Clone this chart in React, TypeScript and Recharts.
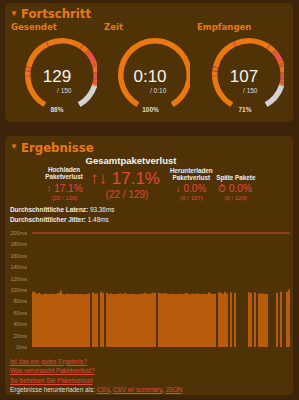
import React from 'react';
import { BarChart, Bar, XAxis, YAxis, ReferenceLine, PieChart, Pie, Cell } from 'recharts';

// test setup
const totalPackets = 150;
const testSeconds = 10;
const elapsedSeconds = 10;

// latency per sent packet, null = lost
const latencyMs: (number | null)[] = [
  97, 96, 93, 95, 93, 92, 94, 93, 93, 94, 93, 93, 94, 95, 99, 93, 92, 94, 93, 93,
  93, 94, 93, 93, 93, 92, 93, 93, 94, null, 96, 94, 94, null, 97, 95, null, 95, 93, 94,
  93, 93, 93, 94, 94, 93, 95, 93, 93, 94, 93, 93, 92, 93, 93, 94, 95, 93, 93, 94,
  95, 95, null, 95, 94, 94, 95, 94, 93, 94, 93, 93, 93, 94, 93, 93, 94, 95, 93, 93,
  94, 93, 94, 93, 93, 94, 93, 93, 96, 94, 93, 93, null, 96, 95, 93, 97, 94, null, 96,
  null, 95, null, null, null, null, null, null, 96, 95, null, 96, null, 94, 94, 94, 93, 93, null, null,
  null, null, 95, null, 97, null, null, 97, 101,
];

const latencyTicks = [0, 20, 40, 60, 80, 100, 120, 140, 160, 180, 200];
const thresholdMs = 200;
const avgLatencyMs = '93.36';
const avgJitterMs = '1.48';
const downloadLost = 0;
const latePackets = 0;
const helpLinks = ['Ist das ein gutes Ergebnis?', 'Was verursacht Paketverlust?', 'So beheben Sie Paketverlust'];
const downloadFormats = ['CSV', 'CSV w/ summary', 'JSON'];

const PAGE = '#3d2309';
const PANEL = '#4f3307';
const ORANGE = '#ea770f';
const STRIPE = '#f04d58';
const GREY = '#d2d2d2';
const LOSS = '#e4463c';
const BAR = '#b85b0b';
const SANS = '"Liberation Sans", Arial, sans-serif';
const NARROW = '"Liberation Sans Narrow", "DejaVu Sans Condensed", sans-serif';

const sent = latencyMs.length;
const lost = latencyMs.filter((v) => v === null).length;
const received = sent - lost;
const pct = (a: number, b: number) => ((a / b) * 100).toFixed(1) + '%';

const kindColor: Record<string, string> = { ok: ORANGE, lost: STRIPE, pending: GREY };

// group packets into runs so the ring has no seams
const packetRuns = (count: number) => {
  const runs: { n: number; kind: string }[] = [];
  for (let i = 0; i < totalPackets; i++) {
    const kind = i >= count ? 'pending' : latencyMs[i] === null ? 'lost' : 'ok';
    const last = runs[runs.length - 1];
    if (last && last.kind === kind) last.n++;
    else runs.push({ n: 1, kind });
  }
  return runs;
};

const timeRuns = [
  { n: elapsedSeconds, kind: 'ok' },
  { n: testSeconds - elapsedSeconds, kind: 'pending' },
];

const barData = latencyMs.map((ms, i) => ({ i, ms }));

const T = ({ x, y, s, c = '#eeeeee', b = false, a = 'left', f = SANS, u = false, children }: any) => (
  <div
    style={{
      position: 'absolute',
      left: x,
      top: y - s / 2,
      fontSize: s,
      lineHeight: `${s}px`,
      color: c,
      fontWeight: b ? 700 : 400,
      fontFamily: f,
      whiteSpace: 'nowrap',
      textDecoration: u ? 'underline' : 'none',
      transform: a === 'center' ? 'translateX(-50%)' : undefined,
    }}
  >
    {children}
  </div>
);

const GY = 70;

const Gauge = ({ x, runs }: { x: number; runs: { n: number; kind: string }[] }) => (
  <div style={{ position: 'absolute', left: x - 40, top: GY - 40 }}>
    <PieChart width={80} height={80}>
      <Pie
        data={runs}
        dataKey="n"
        cx={40}
        cy={40}
        innerRadius={31.5}
        outerRadius={37}
        startAngle={240}
        endAngle={-60}
        stroke="none"
        isAnimationActive={false}
      >
        {runs.map((r, i) => (
          <Cell key={i} fill={kindColor[r.kind]} />
        ))}
      </Pie>
    </PieChart>
  </div>
);

const Header = ({ y, label }: { y: number; label: string }) => (
  <>
    <T x={10} y={y} s={8} c={ORANGE}>▼</T>
    <T x={21} y={y} s={13} c={ORANGE} b f={NARROW}>{label}</T>
  </>
);

export default function App() {
  const sentRuns = packetRuns(sent);
  return (
    <div style={{ position: 'absolute', left: 0, top: 0, width: 299, height: 400, background: PAGE, overflow: 'hidden', fontFamily: SANS }}>
      <div style={{ position: 'absolute', left: 5, top: 3, width: 288, height: 119, background: PANEL, borderRadius: 5 }} />
      <div style={{ position: 'absolute', left: 5, top: 136, width: 288, height: 259, background: PANEL, borderRadius: 5 }} />

      <Header y={13.5} label="Fortschritt" />
      <T x={11} y={27} s={9.5} c={ORANGE} b f={NARROW}>Gesendet</T>
      <T x={104} y={27} s={9.5} c={ORANGE} b f={NARROW}>Zeit</T>
      <T x={197} y={27} s={9.5} c={ORANGE} b f={NARROW}>Empfangen</T>

      <Gauge x={57} runs={sentRuns} />
      <Gauge x={150} runs={timeRuns} />
      <Gauge x={244} runs={sentRuns} />

      <T x={57} y={76} s={17} c="#f4f4f4" a="center">{sent}</T>
      <T x={57} y={91.5} s={6.5} c="#dddddd">/ {totalPackets}</T>
      <T x={57} y={110} s={6.5} c="#dddddd" b a="center">{Math.round((sent / totalPackets) * 100)}%</T>

      <T x={150} y={76} s={17} c="#f4f4f4" a="center">0:{elapsedSeconds}</T>
      <T x={150} y={91.5} s={6.5} c="#dddddd">/ 0:{testSeconds}</T>
      <T x={150.5} y={110} s={6.5} c="#dddddd" b a="center">{Math.round((elapsedSeconds / testSeconds) * 100)}%</T>

      <T x={244} y={76} s={17} c="#f4f4f4" a="center">{received}</T>
      <T x={243} y={91.5} s={6.5} c="#dddddd">/ {totalPackets}</T>
      <T x={245} y={110} s={6.5} c="#dddddd" b a="center">{Math.round((received / totalPackets) * 100)}%</T>

      <Header y={147} label="Ergebnisse" />
      <T x={131} y={161} s={9.5} c="#f4f4f4" b a="center">Gesamtpaketverlust</T>
      <T x={125} y={178} s={17} c={LOSS} a="center">↑↓ {pct(lost, sent)}</T>
      <T x={127} y={195} s={10} c={LOSS} a="center">({lost} / {sent})</T>

      <T x={64} y={170.5} s={6.3} b a="center">Hochladen</T>
      <T x={64} y={177.5} s={6.3} b a="center">Paketverlust</T>
      <T x={64.5} y={188.5} s={10} c={LOSS} a="center">↑ {pct(lost, sent)}</T>
      <T x={64.5} y={198} s={6} c={LOSS} a="center">({lost} / {sent})</T>

      <T x={191.3} y={171} s={6.3} b a="center">Herunterladen</T>
      <T x={191.3} y={177.7} s={6.3} b a="center">Paketverlust</T>
      <T x={191} y={189} s={10} c={LOSS} a="center">↓ {pct(downloadLost, received)}</T>
      <T x={191.5} y={198.3} s={6} c={LOSS} a="center">({downloadLost} / {received})</T>

      <T x={235.8} y={177.7} s={6.3} b a="center">Späte Pakete</T>
      <T x={235} y={189} s={10} c={LOSS} a="center">⏱ {pct(latePackets, sent)}</T>
      <T x={235.8} y={198.3} s={6} c={LOSS} a="center">({latePackets} / {sent})</T>

      <T x={10} y={210} s={6.4}><b>Durchschnittliche Latenz:</b> {avgLatencyMs}ms</T>
      <T x={10} y={220} s={6.4}><b>Durchschnittlicher Jitter:</b> {avgJitterMs}ms</T>

      <div style={{ position: 'absolute', left: 0, top: 228 }}>
        <BarChart width={292} height={124} data={barData} margin={{ top: 5, right: 2, bottom: 5, left: 0 }} barCategoryGap={0}>
          <XAxis dataKey="i" hide />
          <YAxis
            width={32}
            domain={[0, thresholdMs]}
            ticks={latencyTicks}
            interval={0}
            axisLine={false}
            tickLine={false}
            tickSize={2}
            tickMargin={3}
            tickFormatter={(v: number) => `${v}ms`}
            tick={{ fontSize: 5.5, fill: '#a58f6c', fontFamily: SANS }}
          />
          <ReferenceLine y={thresholdMs} stroke="#d8463e" strokeWidth={1} />
          <Bar dataKey="ms" fill={BAR} isAnimationActive={false} />
        </BarChart>
      </div>

      {helpLinks.map((l, i) => (
        <T key={l} x={10} y={361.7 + i * 9.5} s={6.4} c={LOSS} u>{l}</T>
      ))}
      <T x={10} y={390.3} s={6.4} c="#dddddd">
        Ergebnisse herunterladen als:{' '}
        {downloadFormats.map((f, i) => (
          <span key={f}>
            <span style={{ color: LOSS, textDecoration: 'underline' }}>{f}</span>
            {i < downloadFormats.length - 1 ? ', ' : ''}
          </span>
        ))}
      </T>
    </div>
  );
}
